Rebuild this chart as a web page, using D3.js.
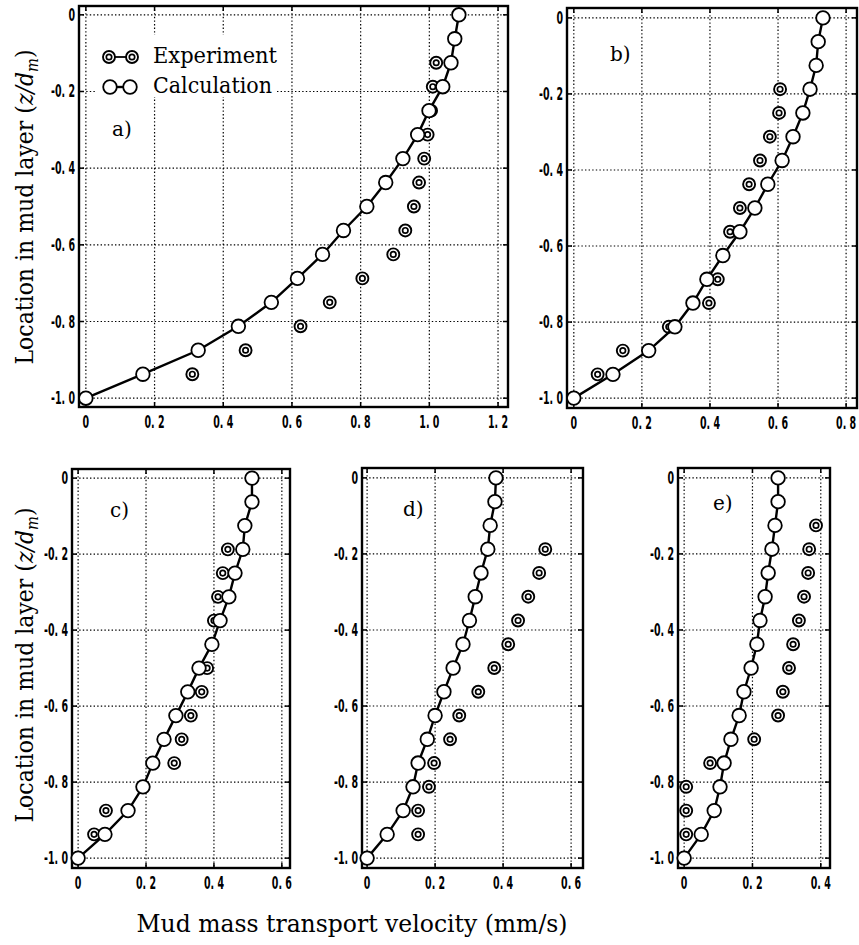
<!DOCTYPE html>
<html>
<head>
<meta charset="utf-8">
<script src="https://cdn.jsdelivr.net/npm/d3@7"></script>
<style>
  body { margin: 0; background: #fff; }
  svg { display: block; }
</style>
</head>
<body>
<div id="chart"></div>
<script>
// depth levels of the calculated profile (z/dm)
const zCalc = [0, -0.0625, -0.125, -0.1875, -0.25, -0.3125, -0.375, -0.4375, -0.5,
  -0.5625, -0.625, -0.6875, -0.75, -0.8125, -0.875, -0.9375, -1.0];

const calcA = [1.086, 1.074, 1.063, 1.039, 0.999, 0.966, 0.923, 0.873, 0.818, 0.750, 0.689, 0.616, 0.540, 0.444, 0.327, 0.166, 0];
const expZA = [-0.125, -0.1875, -0.25, -0.3125, -0.375, -0.4375, -0.5, -0.5625, -0.625, -0.6875, -0.75, -0.8125, -0.875, -0.9375];
const expA = [1.02, 1.01, 1.005, 0.995, 0.985, 0.97, 0.955, 0.93, 0.895, 0.805, 0.71, 0.625, 0.465, 0.31];

const calcB = [0.732, 0.718, 0.712, 0.694, 0.673, 0.644, 0.612, 0.570, 0.532, 0.488, 0.438, 0.391, 0.350, 0.297, 0.220, 0.115, 0];
const expZB = [-0.1875, -0.25, -0.3125, -0.375, -0.4375, -0.5, -0.5625, -0.6875, -0.75, -0.8125, -0.875, -0.9375];
const expB = [0.606, 0.603, 0.576, 0.547, 0.515, 0.488, 0.459, 0.423, 0.397, 0.279, 0.144, 0.070];

const calcC = [0.512, 0.512, 0.491, 0.485, 0.462, 0.444, 0.418, 0.394, 0.356, 0.323, 0.288, 0.253, 0.22, 0.191, 0.147, 0.079, 0];
const expZC = [-0.1875, -0.25, -0.3125, -0.375, -0.5, -0.5625, -0.625, -0.6875, -0.75, -0.875, -0.9375];
const expC = [0.441, 0.426, 0.412, 0.400, 0.380, 0.364, 0.332, 0.305, 0.283, 0.082, 0.047];

const calcD = [0.379, 0.376, 0.362, 0.355, 0.335, 0.318, 0.301, 0.282, 0.253, 0.226, 0.2, 0.177, 0.15, 0.135, 0.106, 0.059, 0];
const expZD = [-0.1875, -0.25, -0.3125, -0.375, -0.4375, -0.5, -0.5625, -0.625, -0.6875, -0.75, -0.8125, -0.875, -0.9375];
const expD = [0.524, 0.506, 0.474, 0.444, 0.415, 0.374, 0.327, 0.271, 0.244, 0.197, 0.182, 0.15, 0.15];

const calcE = [0.275, 0.275, 0.266, 0.257, 0.246, 0.237, 0.222, 0.213, 0.196, 0.175, 0.161, 0.137, 0.117, 0.105, 0.088, 0.05, 0];
const expZE = [-0.125, -0.1875, -0.25, -0.3125, -0.375, -0.4375, -0.5, -0.5625, -0.625, -0.6875, -0.75, -0.8125, -0.875, -0.9375];
const expE = [0.386, 0.366, 0.363, 0.351, 0.336, 0.319, 0.307, 0.289, 0.275, 0.205, 0.076, 0.006, 0.006, 0.006];

const yTicks = [0, -0.2, -0.4, -0.6, -0.8, -1.0];
const xTicksA = [0, 0.2, 0.4, 0.6, 0.8, 1.0, 1.2];
const xTicksB = [0, 0.2, 0.4, 0.6, 0.8];
const xTicksCD = [0, 0.2, 0.4, 0.6];
const xTicksE = [0, 0.2, 0.4];
const panelNames = ["a)", "b)", "c)", "d)", "e)"];
const legendNames = ["Experiment", "Calculation"];

const W = 859, H = 945;

const panels = [
  { calc: calcA, expZ: expZA, exp: expA, xTicks: xTicksA, xDom: [-0.02, 1.229], yDom: [0.023, -1.023],
    box: [79, 6, 508, 407], name: panelNames[0], lab: [112, 136] },
  { calc: calcB, expZ: expZB, exp: expB, xTicks: xTicksB, xDom: [-0.02, 0.832], yDom: [0.026, -1.026],
    box: [567, 8, 857, 408], name: panelNames[1], lab: [610, 61] },
  { calc: calcC, expZ: expZC, exp: expC, xTicks: xTicksCD, xDom: [-0.018, 0.624], yDom: [0.024, -1.026],
    box: [72, 469, 290, 868], name: panelNames[2], lab: [110, 517] },
  { calc: calcD, expZ: expZD, exp: expD, xTicks: xTicksCD, xDom: [-0.015, 0.635], yDom: [0.026, -1.026],
    box: [362, 468, 583, 868], name: panelNames[3], lab: [403, 516] },
  { calc: calcE, expZ: expZE, exp: expE, xTicks: xTicksE, xDom: [-0.018, 0.427], yDom: [0.026, -1.026],
    box: [678, 468, 830, 868], name: panelNames[4], lab: [713, 510] }
];

const svg = d3.select("#chart").append("svg")
  .attr("width", W)
  .attr("height", H);

const fmt = v => v === 0 ? "0" : d3.format(".1f")(v).replace("\u2212", "-").replace(".", ". ");
const tickFont = "'DejaVu Sans Condensed', 'DejaVu Sans', sans-serif";
const serif = "'DejaVu Serif', serif";

const drawExp = (g, cx, cy) => {
  g.append("circle").attr("cx", cx).attr("cy", cy).attr("r", 6)
    .attr("fill", "#fff").attr("stroke", "#000").attr("stroke-width", 1.9);
  g.append("circle").attr("cx", cx).attr("cy", cy).attr("r", 2.7)
    .attr("fill", "#fff").attr("stroke", "#000").attr("stroke-width", 1.7);
};

const drawPanel = (p) => {
  const [x0, y0, x1, y1] = p.box;
  const x = d3.scaleLinear().domain(p.xDom).range([x0, x1]);
  const y = d3.scaleLinear().domain(p.yDom).range([y0, y1]);
  const g = svg.append("g");

  // dotted grid
  g.selectAll(".gx").data(p.xTicks).enter().append("line")
    .attr("x1", d => x(d)).attr("x2", d => x(d))
    .attr("y1", y0).attr("y2", y1)
    .attr("stroke", "#000").attr("stroke-width", 1.2).attr("stroke-dasharray", "1.4,2.2");
  g.selectAll(".gy").data(yTicks).enter().append("line")
    .attr("x1", x0).attr("x2", x1)
    .attr("y1", d => y(d)).attr("y2", d => y(d))
    .attr("stroke", "#000").attr("stroke-width", 1.2).attr("stroke-dasharray", "1.4,2.2");

  // inward ticks
  p.xTicks.forEach(v => {
    g.append("line").attr("x1", x(v)).attr("x2", x(v)).attr("y1", y0).attr("y2", y0 + 5).attr("stroke", "#000").attr("stroke-width", 1.5);
    g.append("line").attr("x1", x(v)).attr("x2", x(v)).attr("y1", y1).attr("y2", y1 - 5).attr("stroke", "#000").attr("stroke-width", 1.5);
  });
  yTicks.forEach(v => {
    g.append("line").attr("x1", x0).attr("x2", x0 + 5).attr("y1", y(v)).attr("y2", y(v)).attr("stroke", "#000").attr("stroke-width", 1.5);
    g.append("line").attr("x1", x1).attr("x2", x1 - 5).attr("y1", y(v)).attr("y2", y(v)).attr("stroke", "#000").attr("stroke-width", 1.5);
  });

  g.append("rect")
    .attr("x", x0).attr("y", y0)
    .attr("width", x1 - x0).attr("height", y1 - y0)
    .attr("fill", "none").attr("stroke", "#000").attr("stroke-width", 2.4);

  // tick labels
  g.selectAll(".xl").data(p.xTicks).enter().append("text")
    .attr("transform", d => `translate(${x(d)},${y1 + 21}) scale(0.62,1)`)
    .attr("text-anchor", "middle")
    .style("font-family", tickFont).style("font-weight", "bold").style("font-size", "17px")
    .text(fmt);
  g.selectAll(".yl").data(yTicks).enter().append("text")
    .attr("transform", d => `translate(${x0 - 4},${y(d) + 6}) scale(0.62,1)`)
    .attr("text-anchor", "end")
    .style("font-family", tickFont).style("font-weight", "bold").style("font-size", "17px")
    .text(fmt);

  // experiment markers
  p.exp.forEach((v, i) => drawExp(g, x(v), y(p.expZ[i])));

  // calculation line + circles
  const pts = p.calc.map((v, i) => [x(v), y(zCalc[i])]);
  g.append("path")
    .attr("d", d3.line()(pts))
    .attr("fill", "none").attr("stroke", "#000").attr("stroke-width", 2.4);
  g.selectAll(".calc").data(pts).enter().append("circle")
    .attr("cx", d => d[0]).attr("cy", d => d[1]).attr("r", 6.8)
    .attr("fill", "#fff").attr("stroke", "#000").attr("stroke-width", 1.8);

  g.append("text")
    .attr("x", p.lab[0]).attr("y", p.lab[1])
    .style("font-family", serif).style("font-size", "20px")
    .text(p.name);
};

panels.forEach(drawPanel);

// legend (panel a)
const leg = svg.append("g");
leg.append("rect").attr("x", 97).attr("y", 35).attr("width", 178).attr("height", 62).attr("fill", "#fff");
leg.append("line").attr("x1", 109).attr("x2", 132).attr("y1", 57).attr("y2", 57).attr("stroke", "#000").attr("stroke-width", 1.8);
drawExp(leg, 109, 57);
drawExp(leg, 132, 57);
leg.append("line").attr("x1", 110).attr("x2", 130).attr("y1", 87).attr("y2", 87).attr("stroke", "#000").attr("stroke-width", 2.4);
[110, 130].forEach(cx => leg.append("circle").attr("cx", cx).attr("cy", 87).attr("r", 6.8)
  .attr("fill", "#fff").attr("stroke", "#000").attr("stroke-width", 1.8));
leg.selectAll("text").data(legendNames).enter().append("text")
  .attr("x", 153).attr("y", (d, i) => 63 + i * 30)
  .attr("textLength", (d, i) => [124, 119][i])
  .attr("lengthAdjust", "spacingAndGlyphs")
  .style("font-family", serif).style("font-size", "22px")
  .text(d => d);

// axis titles
const yTitle = (cy) => {
  const t = svg.append("text")
    .attr("transform", `translate(33,${cy}) rotate(-90)`)
    .attr("text-anchor", "middle")
    .attr("textLength", 315)
    .attr("lengthAdjust", "spacingAndGlyphs")
    .style("font-family", serif).style("font-size", "24px");
  t.append("tspan").text("Location in mud layer (");
  t.append("tspan").style("font-style", "italic").text("z/d");
  t.append("tspan").style("font-style", "italic").style("font-size", "16px").attr("dy", 5).text("m");
  t.append("tspan").attr("dy", -5).text(")");
};
yTitle(207);
yTitle(665);

svg.append("text")
  .attr("x", 352).attr("y", 932)
  .attr("text-anchor", "middle")
  .attr("textLength", 431)
  .attr("lengthAdjust", "spacingAndGlyphs")
  .style("font-family", serif).style("font-size", "24px")
  .text("Mud mass transport velocity (mm/s)");
</script>
</body>
</html>
